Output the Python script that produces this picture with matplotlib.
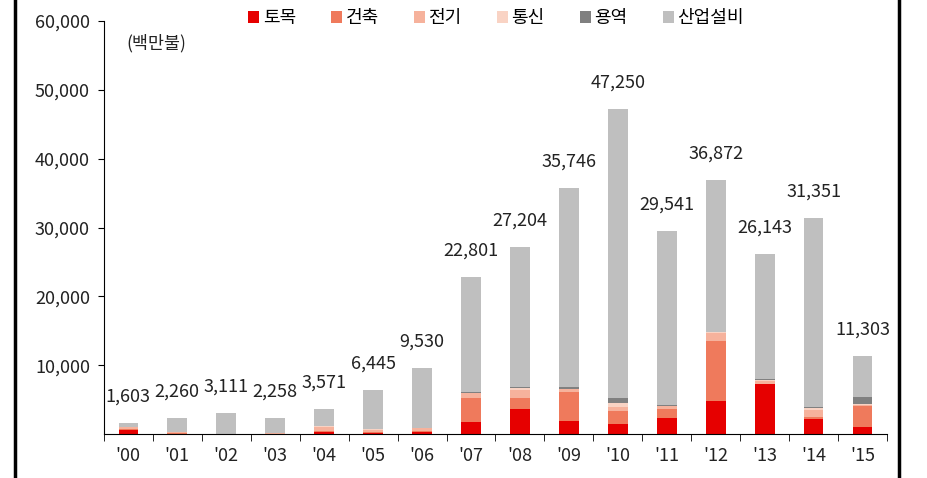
import matplotlib
matplotlib.use('Agg')
import numpy as np
from matplotlib import pyplot as plt
from matplotlib.lines import Line2D
from matplotlib.patches import Patch

plt.rcParams['font.family'] = ['Noto Sans CJK KR', 'DejaVu Sans']
plt.rcParams['font.weight'] = 'light'

#Data (million USD)
years = ["'00", "'01", "'02", "'03", "'04", "'05", "'06", "'07",
         "'08", "'09", "'10", "'11", "'12", "'13", "'14", "'15"]
totals = [1603, 2260, 3111, 2258, 3571, 6445, 9530, 22801,
          27204, 35746, 47250, 29541, 36872, 26143, 31351, 11303]
civil = [600, 50, 20, 20, 300, 200, 350, 1800,
         3600, 1950, 1500, 2400, 4850, 7200, 2150, 1000]
building = [200, 100, 20, 50, 200, 150, 100, 3500,
            1700, 4200, 1900, 1250, 8650, 100, 350, 3050]
electric = [200, 100, 20, 80, 500, 300, 400, 600,
            1100, 350, 500, 350, 1200, 450, 1050, 200]
telecom = [0, 0, 0, 0, 200, 50, 50, 100,
           250, 100, 650, 50, 100, 100, 200, 100]
service = [0, 0, 0, 0, 0, 0, 0, 50,
           200, 200, 750, 200, 50, 150, 150, 1000]
series_names = ['토목', '건축', '전기', '통신', '용역', '산업설비']
colors = ['#e60000', '#ef7a5c', '#f6b29c', '#f9d3c4', '#808080', '#bfbfbf']

#Industrial plant = remainder of the total
plant = [t - (a + b + c + d + e) for t, a, b, c, d, e in
         zip(totals, civil, building, electric, telecom, service)]
stack = [civil, building, electric, telecom, service, plant]

fig = plt.figure(figsize=(9.27, 4.78), dpi=100)
ax = fig.add_axes([0.112, 0.092, 0.845, 0.864])

x = np.arange(len(years))
bottom = np.zeros(len(years))
for vals, col in zip(stack, colors):
    ax.bar(x, vals, 0.4, bottom=bottom, color=col, linewidth=0)
    bottom += np.array(vals)

#Total labels
for xi, t in zip(x, totals):
    ax.annotate(f'{t:,}', (xi, t), xytext=(0, 19), textcoords='offset points',
                ha='center', va='center', fontsize=13, color='#222222')

ax.set_xlim(-0.5, len(years) - 0.5)
ax.set_ylim(0, 60000)
ax.set_yticks(range(10000, 60001, 10000))
ax.set_yticklabels([f'{v:,}' for v in range(10000, 60001, 10000)],
                   fontsize=13, color='#222222')
ax.set_xticks(x)
ax.set_xticklabels(years, fontsize=13, color='#222222')
ax.set_xticks(np.arange(-0.5, len(years)), minor=True)
ax.tick_params(axis='x', which='major', length=0, pad=9)
ax.tick_params(axis='x', which='minor', length=5, direction='out')
ax.tick_params(axis='y', length=4, direction='out', pad=6)
ax.spines['top'].set_visible(False)
ax.spines['right'].set_visible(False)

ax.text(-0.03, 56800, '(백만불)', fontsize=12.5, color='#222222', va='center')

#Legend
handles = [Patch(facecolor=c, edgecolor='none') for c in colors]
fig.legend(handles, series_names, loc='center', bbox_to_anchor=(0.535, 0.962),
           ncol=6, frameon=False, fontsize=13, handlelength=0.6,
           handleheight=0.6, handletextpad=0.2, columnspacing=1.95)

#Frame lines at left and right edges
fig.add_artist(Line2D([0.016, 0.016], [0, 1], color='black', lw=2.5,
                      transform=fig.transFigure))
fig.add_artist(Line2D([0.970, 0.970], [0, 1], color='black', lw=2.5,
                      transform=fig.transFigure))

fig.savefig('out.png', dpi=100)
